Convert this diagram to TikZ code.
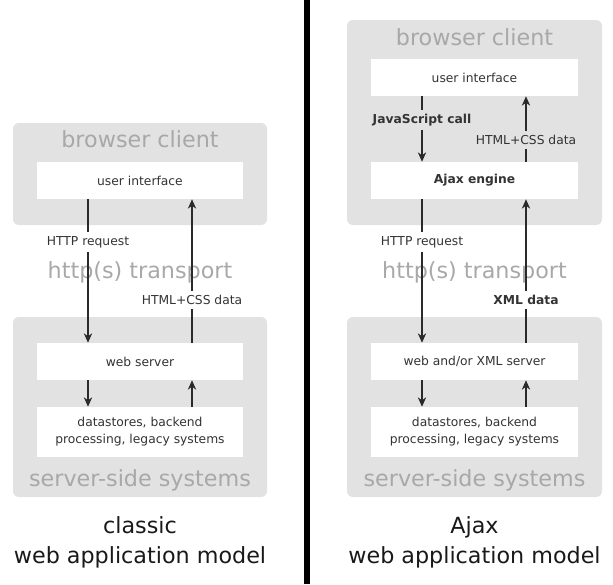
\documentclass[tikz,border=0pt]{standalone}
\usepackage{fontspec}
\setmainfont{DejaVu Sans}
\usetikzlibrary{arrows.meta}
\definecolor{kutuGri}{HTML}{E2E2E2}
\definecolor{baslikGri}{HTML}{A8A8A8}
\definecolor{yaziGri}{HTML}{333333}
\definecolor{okGri}{HTML}{2A2A2A}

\begin{document}
\begin{tikzpicture}[x=0.03cm,y=-0.03cm,
  kutu/.style={fill=white,inner sep=0pt,minimum width=6.18cm,minimum height=1.11cm,
    font=\fontsize{10.5}{14.5}\selectfont,text=yaziGri,align=center},
  etiket/.style={font=\fontsize{10.5}{14.5}\selectfont,text=yaziGri,inner sep=3pt},
  baslik/.style={font=\fontsize{19}{22}\selectfont,text=baslikGri},
  cizgi/.style={draw=okGri,line width=1.4pt},
  ok/.style={cizgi,-{Stealth[length=8pt,width=7pt,inset=2.5pt]}}]
\useasboundingbox (0,0) rectangle (613,584);
% ayirici cizgi
\fill[black] (304,0) rectangle (310,584);
% gri alanlar
\fill[kutuGri,rounded corners=5pt] (13,123) rectangle (267,225);
\fill[kutuGri,rounded corners=5pt] (13,317) rectangle (267,497);
\fill[kutuGri,rounded corners=5pt] (347,20) rectangle (602,225);
\fill[kutuGri,rounded corners=5pt] (347,317) rectangle (602,497);
% gri basliklar
\node[baslik] (lbc) at (140,139) {browser client};
\node[baslik] (lht) at (140,272) {http(s) transport};
\node[baslik] (lss) at (140,480) {server-side systems};
\node[baslik] (rbc) at (474.5,37) {browser client};
\node[baslik] (rht) at (474.5,272) {http(s) transport};
\node[baslik] (rss) at (474.5,480) {server-side systems};
% klasik model
\node[kutu] (lui) at (140,180.5) {user interface};
\node[kutu] (lws) at (140,361.5) {web server};
\node[kutu,minimum height=1.5cm] (lds) at (140,432) {datastores, backend\\processing, legacy systems};
\node[etiket] (lreq) at (88,242) {HTTP request};
\node[etiket] (lhtml) at (192,300) {HTML+CSS data};
\draw[cizgi] (lui.south -| lreq) -- (lreq.north);
\draw[ok] (lreq.south) -- (lws.north -| lreq);
\draw[cizgi] (lws.north -| lhtml) -- (lhtml.south);
\draw[ok] (lhtml.north) -- (lui.south -| lhtml);
\draw[ok] (lws.south -| lreq) -- (lds.north -| lreq);
\draw[ok] (lds.north -| lhtml) -- (lws.south -| lhtml);
% ajax model
\node[kutu] (rui) at (474.5,77.5) {user interface};
\node[kutu,font=\fontsize{10.5}{14.5}\selectfont\bfseries] (rae) at (474.5,180.5) {Ajax engine};
\node[kutu] (rws) at (474.5,361.5) {web and/or XML server};
\node[kutu,minimum height=1.5cm] (rds) at (474.5,432) {datastores, backend\\processing, legacy systems};
\node[etiket,font=\fontsize{10.5}{14.5}\selectfont\bfseries] (rjs) at (422,120) {JavaScript call};
\node[etiket] (rhtml) at (526,140) {HTML+CSS data};
\node[etiket] (rreq) at (422,242) {HTTP request};
\node[etiket,font=\fontsize{10.5}{14.5}\selectfont\bfseries] (rxml) at (526,300) {XML data};
\draw[cizgi] (rui.south -| rjs) -- (rjs.north);
\draw[ok] (rjs.south) -- (rae.north -| rjs);
\draw[cizgi] (rae.north -| rhtml) -- (rhtml.south);
\draw[ok] (rhtml.north) -- (rui.south -| rhtml);
\draw[cizgi] (rae.south -| rreq) -- (rreq.north);
\draw[ok] (rreq.south) -- (rws.north -| rreq);
\draw[cizgi] (rws.north -| rxml) -- (rxml.south);
\draw[ok] (rxml.north) -- (rae.south -| rxml);
\draw[ok] (rws.south -| rreq) -- (rds.north -| rreq);
\draw[ok] (rds.north -| rxml) -- (rws.south -| rxml);
% alt yazilar
\node[font=\fontsize{19}{25.6}\selectfont,align=center,text=black!90] (lmodel) at (140,542) {classic\\web application model};
\node[font=\fontsize{19}{25.6}\selectfont,align=center,text=black!90] (rmodel) at (474.5,542) {Ajax\\web application model};
\end{tikzpicture}
\end{document}
